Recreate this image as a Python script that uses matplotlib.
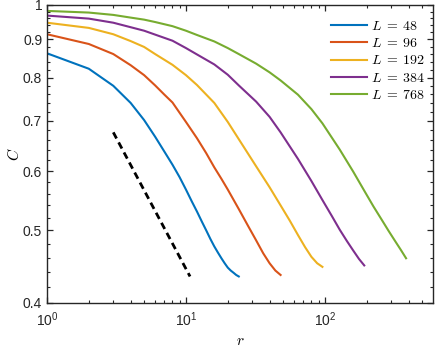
import matplotlib
matplotlib.use("Agg")
import matplotlib.pyplot as plt
from matplotlib.ticker import FixedLocator, FixedFormatter, NullFormatter

plt.rcParams['font.family'] = ['Liberation Sans', 'DejaVu Sans']
plt.rcParams['mathtext.fontset'] = 'cm'

# ---- data ----
labels = [r"$L\;=\;48$", r"$L\;=\;96$", r"$L\;=\;192$", r"$L\;=\;384$", r"$L\;=\;768$"]
colors = ["#0072BD", "#D95319", "#EDB120", "#7E2F8E", "#77AC30"]

r_48 = list(range(1, 25))
C_48 = [0.862, 0.822, 0.780, 0.740, 0.702, 0.667, 0.637, 0.612, 0.589, 0.567,
        0.547, 0.530, 0.514, 0.500, 0.487, 0.476, 0.467, 0.459, 0.452, 0.446,
        0.442, 0.439, 0.436, 0.434]

r_96 = [1, 2, 3, 4, 5, 6, 7, 8, 10, 12, 14, 16, 18, 20, 24, 28, 32, 36, 40, 44, 48]
C_96 = [0.914, 0.887, 0.860, 0.831, 0.806, 0.781, 0.759, 0.741, 0.698, 0.664,
        0.634, 0.607, 0.586, 0.567, 0.534, 0.507, 0.485, 0.466, 0.452, 0.442, 0.436]

r_192 = [1, 2, 3, 4, 5, 6, 8, 10, 12, 16, 20, 24, 32, 40, 48, 56, 64, 72, 80, 88, 96]
C_192 = [0.947, 0.932, 0.914, 0.895, 0.879, 0.860, 0.832, 0.806, 0.782, 0.740,
         0.698, 0.662, 0.609, 0.571, 0.540, 0.515, 0.493, 0.475, 0.461, 0.452, 0.447]

r_384 = [1, 2, 3, 4, 5, 6, 8, 10, 12, 16, 20, 24, 32, 40, 48, 64, 80, 96, 112,
         128, 144, 160, 176, 192]
C_384 = [0.968, 0.959, 0.947, 0.934, 0.924, 0.913, 0.896, 0.876, 0.859, 0.833,
         0.807, 0.781, 0.743, 0.709, 0.676, 0.623, 0.582, 0.549, 0.523, 0.501,
         0.484, 0.470, 0.458, 0.449]

r_768 = [1, 2, 3, 4, 5, 6, 8, 10, 12, 16, 20, 24, 32, 40, 48, 64, 80, 96, 128,
         160, 192, 224, 256, 288, 320, 352, 384]
C_768 = [0.982, 0.977, 0.970, 0.962, 0.956, 0.949, 0.937, 0.924, 0.912, 0.894,
         0.876, 0.860, 0.835, 0.813, 0.793, 0.759, 0.726, 0.695, 0.641, 0.599,
         0.565, 0.538, 0.517, 0.499, 0.484, 0.471, 0.459]

# reference (dashed) line endpoints
r_ref = [3.0, 10.7]
C_ref = [0.676, 0.434]

x_ticks = [1, 10, 100]
x_ticklabels = [r"$\mathdefault{10^{0}}$", r"$\mathdefault{10^{1}}$", r"$\mathdefault{10^{2}}$"]
y_ticks = [0.4, 0.5, 0.6, 0.7, 0.8, 0.9, 1.0]
y_ticklabels = ["0.4", "0.5", "0.6", "0.7", "0.8", "0.9", "1"]

# ---- figure ----
fig = plt.figure(figsize=(4.36, 3.47), dpi=100)
ax = fig.add_axes([47/436, 1-303/347, 386/436, 298/347])

series = [(r_48, C_48), (r_96, C_96), (r_192, C_192), (r_384, C_384), (r_768, C_768)]
for (rr, cc), lab, col in zip(series, labels, colors):
    ax.plot(rr, cc, color=col, lw=1.5, label=lab, solid_joinstyle='round')

ax.plot(r_ref, C_ref, color='black', lw=2.0, ls=(0, (2.5, 1.6)))

ax.set_xscale('log')
ax.set_yscale('log')
ax.set_xlim(1, 600)
ax.set_ylim(0.4, 1.0)

ax.xaxis.set_major_locator(FixedLocator(x_ticks))
ax.xaxis.set_major_formatter(FixedFormatter(x_ticklabels))
xminor = [m * 10**e for e in range(0, 3) for m in range(2, 10) if m * 10**e < 600]
ax.xaxis.set_minor_locator(FixedLocator(xminor))
ax.xaxis.set_minor_formatter(NullFormatter())

ax.yaxis.set_major_locator(FixedLocator(y_ticks))
ax.yaxis.set_major_formatter(FixedFormatter(y_ticklabels))
yminor = [round(0.4 + 0.02 * i, 2) for i in range(1, 30)]
yminor = [v for v in yminor if abs(v * 10 - round(v * 10)) > 1e-6]
ax.yaxis.set_minor_locator(FixedLocator(yminor))
ax.yaxis.set_minor_formatter(NullFormatter())

edge = '#262626'
for s in ax.spines.values():
    s.set_color(edge)
    s.set_linewidth(1.0)
ax.tick_params(which='both', direction='in', top=True, right=True, colors=edge,
               labelcolor='#262626', labelsize=10)
ax.tick_params(which='major', length=4.5, width=0.9)
ax.tick_params(which='minor', length=2.5, width=0.8)
ax.tick_params(axis='x', pad=5)

ax.set_xlabel("$r$", fontsize=11, labelpad=4)
ax.set_ylabel("$C$", fontsize=11, labelpad=1)

leg = ax.legend(loc='upper left', bbox_to_anchor=((331 - 47) / 386, 1 - (19 - 5) / 298),
                frameon=False, fontsize=10, handlelength=2.6, handletextpad=0.28,
                labelspacing=0.23, borderpad=0, borderaxespad=0)

fig.savefig("out.png", dpi=100)
